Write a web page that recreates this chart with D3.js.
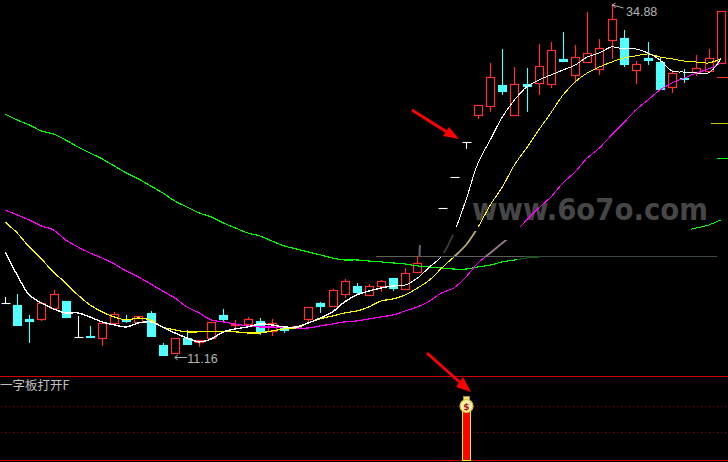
<!DOCTYPE html>
<html><head><meta charset="utf-8">
<script src="https://cdn.jsdelivr.net/npm/d3@7"></script>
<style>html,body{margin:0;padding:0;background:#000;overflow:hidden}svg{display:block}</style>
</head><body><svg id="c" width="728" height="462"></svg>
<script>
// Values (price units; null = candle not visible)
const highs=[15.25,15.45,14.05,14.85,15.72,14.98,13.98,13.31,13.51,14.25,14.05,13.98,14.31,12.17,12.50,13.04,12.37,13.58,14.45,13.71,13.91,13.84,13.78,13.17,13.31,14.58,14.92,15.79,16.46,16.19,16.12,16.39,16.52,17.18,17.99,null,21.21,23.29,25.63,28.11,30.93,31.87,30.66,30.59,32.20,32.33,33.00,32.13,34.34,32.53,34.88,33.14,31.06,32.33,31.26,30.46,30.52,31.46,31.87,34.41];
const opens=[14.85,14.72,13.78,13.78,14.51,14.98,12.57,12.66,12.50,13.51,13.71,13.58,14.18,12.04,11.50,12.50,12.24,12.50,14.05,13.38,13.44,13.64,12.97,13.17,13.24,13.78,14.85,14.65,15.45,15.99,15.39,15.99,16.52,15.79,16.91,null,21.21,23.29,25.63,27.45,28.05,29.45,27.45,29.52,29.59,29.52,31.19,30.12,30.99,30.52,32.47,32.60,30.46,31.26,30.99,29.32,29.92,30.32,30.39,30.93];
const closes=[14.85,13.38,13.64,14.85,15.45,13.91,12.57,12.62,13.51,14.11,13.64,13.98,12.64,11.37,12.50,12.10,12.37,13.58,13.78,13.44,13.78,12.97,13.51,13.04,13.31,14.58,14.65,15.72,16.33,15.59,15.99,16.33,15.85,16.85,17.52,null,21.21,23.29,25.63,28.11,29.99,29.05,29.52,29.39,30.73,31.80,31.06,31.33,31.60,31.93,33.87,30.86,30.86,31.13,29.19,30.26,29.85,30.59,31.26,34.41];
const lows=[14.85,13.38,12.17,13.64,14.51,13.91,12.57,12.50,11.97,13.51,13.51,13.58,12.64,11.37,11.50,12.10,11.90,12.37,13.51,13.17,13.44,12.71,12.64,12.84,13.11,13.51,14.18,14.58,15.18,15.45,15.39,15.59,15.65,15.79,16.91,null,21.21,23.29,25.17,27.18,27.65,28.78,27.45,27.65,28.78,29.25,30.99,29.59,30.99,30.12,31.19,30.66,29.52,30.79,29.19,28.92,29.59,30.05,30.39,30.93];
const maWhite=[18.27,16.73,15.39,14.85,14.45,14.18,14.18,13.91,13.58,13.38,13.24,13.51,13.58,13.24,12.84,12.50,12.24,12.44,12.91,13.11,13.24,13.44,13.38,13.24,13.24,13.51,13.84,14.25,14.92,15.39,15.65,15.85,15.99,16.05,16.52,17.26,17.99,19.54,21.75,24.23,25.77,27.31,28.45,29.32,29.79,30.12,30.46,30.79,31.33,31.60,32.00,31.87,31.87,31.60,31.13,30.39,30.32,30.26,30.26,31.19];
const maYellow=[20.28,19.54,18.60,17.80,16.91,16.19,15.39,14.72,14.25,13.91,13.71,13.84,13.71,13.24,13.04,12.91,12.91,12.91,12.91,12.91,12.84,12.84,12.97,13.11,13.17,13.51,13.78,13.98,14.18,14.31,14.58,14.98,15.12,15.39,15.85,16.39,17.19,17.93,18.73,19.94,21.41,22.62,24.10,25.23,26.44,27.58,28.78,29.66,30.26,30.66,30.99,31.26,31.40,31.53,31.33,31.20,31.06,30.99,30.93,31.20];
const maMagenta=[21.08,20.75,20.41,20.01,19.74,19.07,18.60,18.20,17.86,17.46,16.99,16.59,16.12,15.65,15.18,14.58,14.18,13.71,13.58,13.44,13.31,13.24,13.24,13.17,13.17,13.17,13.31,13.44,13.58,13.64,13.78,13.91,14.05,14.31,14.58,14.98,15.52,15.85,16.59,17.53,18.20,18.87,19.54,20.41,21.21,21.95,22.89,23.63,24.56,25.23,26.10,26.91,27.78,28.45,29.12,29.59,29.92,30.26,30.53,30.93];
const maGreen=[27.51,27.11,26.78,26.37,26.17,25.77,25.30,24.90,24.50,24.03,23.56,23.16,22.69,22.22,21.68,21.28,20.88,20.61,20.21,19.87,19.54,19.34,19.00,18.67,18.47,18.27,18.07,17.86,17.73,17.73,17.66,17.60,17.53,17.46,17.33,17.26,17.19,17.12,17.12,17.26,17.39,17.60,17.73,17.86,17.93,null,null,null,null,null,null,null,null,null,null,null,19.67,19.87,20.07,20.41];
const ghostLevel=17.99;
const rightMarks=[29.99,26.91,24.56];
const highLabel=34.88, lowLabel=11.16;
const panelTitle="一字板打开F", watermark="www.6o7o.com";

const RED="#ff3232",CYAN="#54ffff",W=728;
const svg=d3.select("#c");
svg.append("rect").attr("width",728).attr("height",462).attr("fill","#000");
const x=d3.scaleLinear().domain([0,59]).range([5,720.7]);
const y=d3.scaleLinear().domain([11.16,34.88]).range([358,4]);
const crisp=v=>Math.round(v)+0.5;

// watermark (under the marks)
svg.append("text").text(watermark).attr("x",472).attr("y",220)
  .attr("textLength",236).attr("lengthAdjust","spacingAndGlyphs")
  .attr("font-family","DejaVu Sans").attr("font-weight","bold").attr("font-size",30).attr("fill","#464646");

// faint level line
const glvl=svg.append("g").attr("shape-rendering","crispEdges");
glvl.append("line").attr("x1",376).attr("x2",525).attr("y1",crisp(y(ghostLevel))).attr("y2",crisp(y(ghostLevel))).attr("stroke","#5e5e5e");
glvl.append("line").attr("x1",525).attr("x2",717).attr("y1",crisp(y(ghostLevel))).attr("y2",crisp(y(ghostLevel))).attr("stroke","#3e4a4a");

// candles
const candles=svg.append("g");
d3.range(highs.length).forEach(i=>{
  if(highs[i]===null) return;
  const o=opens[i],c=closes[i],cx=crisp(x(i));
  const col=c>o?RED:(c<o?CYAN:"#fff"), sw=c>o?1.2:1.1;
  const top=Math.round(y(Math.max(o,c))),bot=Math.round(y(Math.min(o,c)));
  candles.append("line").attr("x1",cx).attr("x2",cx).attr("y1",y(highs[i])).attr("y2",top).attr("stroke",col).attr("stroke-width",sw);
  candles.append("line").attr("x1",cx).attr("x2",cx).attr("y1",bot).attr("y2",y(lows[i])).attr("stroke",col).attr("stroke-width",sw);
  if(c===o){
    candles.append("line").attr("x1",cx-4).attr("x2",cx+5).attr("y1",top+.5).attr("y2",top+.5).attr("stroke",col).attr("stroke-width",1.1);
  } else {
    candles.append("rect").attr("x",cx-4).attr("width",8).attr("y",top+.5).attr("height",Math.max(bot-top,1))
      .attr("fill",c>o?"#000":CYAN).attr("stroke",col).attr("stroke-width",sw);
  }
});
// smear above the last red candle
svg.append("line").attr("x1",x(34)+2).attr("x2",x(34)+2.5).attr("y1",y(highs[34])).attr("y2",y(18.73)).attr("stroke","#6f5f80").attr("stroke-width",2);

// clip regions for moving averages
const defs=svg.append("defs");
defs.append("clipPath").attr("id","left").append("rect").attr("width",400).attr("height",372);
const cp=defs.append("clipPath").attr("id","right");
[[400,0,328,227],[400,257,328,115]].forEach(r=>cp.append("rect").attr("x",r[0]).attr("y",r[1]).attr("width",r[2]).attr("height",r[3]));
const line=d3.line().defined(d=>d!==null).x((d,i)=>x(i)).y(d=>y(d)).curve(d3.curveCatmullRom);
function strip(vals,col,sw,clip){
  svg.append("path").attr("d",line(vals)).attr("fill","none").attr("stroke",col).attr("stroke-width",sw)
    .attr("shape-rendering","crispEdges").attr("clip-path",`url(#${clip})`);
}
function ma(vals,col,leftW,smearCol,st,sb,id){
  strip(vals,col,leftW,"left");
  strip(vals,col,1.0,"right");
  defs.append("clipPath").attr("id",id).append("rect").attr("x",400).attr("y",st).attr("width",328).attr("height",sb-st);
  svg.append("path").attr("d",line(vals)).attr("fill","none").attr("stroke",smearCol).attr("stroke-width",1.8).attr("stroke-linecap","round").attr("clip-path",`url(#${id})`);
}
// green: bright until x≈517, faded until 547, hidden until 691
defs.append("clipPath").attr("id","g1").append("rect").attr("width",517).attr("height",372);
defs.append("clipPath").attr("id","g2").append("rect").attr("x",517).attr("width",30).attr("height",372);
defs.append("clipPath").attr("id","g3").append("rect").attr("x",691).attr("width",37).attr("height",372);
strip(maGreen,"#00ff00",1.15,"g1");
strip(maGreen,"#0c5a0c",1.15,"g2");
strip(maGreen,"#00ff00",1.0,"g3");
ma(maMagenta,"#ff00ff",1.2,"#94788a",240,257,"s3");
ma(maYellow,"#ffff00",1.2,"#b3aa6c",231,256,"s2");
ma(maWhite,"#ffffff",1.4,"#3c3c3c",235,253,"s1");

// high/low labels
const lab=svg.append("g").attr("fill","#b4b4b4").attr("font-family","Liberation Sans").attr("font-size",12.5);
const hx=x(50),hy=y(highLabel);
svg.append("path").attr("d",`M${hx+1},${hy+1}L${hx+12},${hy+4}M${hx+1},${hy+1}l3,-2M${hx+1},${hy+1}l3,3`).attr("fill","none").attr("stroke","#b4b4b4");
lab.append("text").text(highLabel).attr("x",hx+14.5).attr("y",hy+12);
const lx=x(14),ly=y(lowLabel);
svg.append("path").attr("d",`M${lx},${ly-.5}H${lx+12}M${lx},${ly-.5}l3,-2.5M${lx},${ly-.5}l3,2.5`).attr("fill","none").attr("stroke","#b4b4b4");
lab.append("text").text(lowLabel).attr("x",lx+12.5).attr("y",ly+5);

// right edge marks
[RED,"#c8c800","#00ff00"].forEach((col,i)=>{
  const x0=[717,711,717][i];
  svg.append("line").attr("x1",x0).attr("x2",W).attr("y1",crisp(y(rightMarks[i]))).attr("y2",crisp(y(rightMarks[i]))).attr("stroke",col).attr("shape-rendering","crispEdges");
});

// lower panel
const p=svg.append("g");
[376,460].forEach(v=>p.append("line").attr("x1",0).attr("x2",W).attr("y1",v+.5).attr("y2",v+.5).attr("stroke","#d00000").attr("shape-rendering","crispEdges"));
[406,432].forEach(v=>p.append("line").attr("x1",1).attr("x2",W).attr("y1",v+.5).attr("y2",v+.5).attr("stroke","#a00000").attr("stroke-dasharray","1 3").attr("shape-rendering","crispEdges"));
p.append("text").text(panelTitle).attr("x",0).attr("y",390).attr("fill","#c0c0c0")
  .attr("font-family","Noto Sans CJK SC").attr("font-size",12.5);
p.append("rect").attr("x",462.5).attr("y",411.5).attr("width",8).attr("height",49).attr("fill","#ff0000").attr("stroke","#ffff00").attr("shape-rendering","crispEdges");
// money bag
p.append("rect").attr("x",463.5).attr("y",396.5).attr("width",6).attr("height",4).attr("fill","#f4e27a").attr("stroke","#b09a20").attr("stroke-width",.8);
p.append("ellipse").attr("cx",466.5).attr("cy",406).attr("rx",6.5).attr("ry",6.5).attr("fill","#f6efb0").attr("stroke","#d8c820").attr("stroke-width",1.2);
p.append("text").text("$").attr("x",466.5).attr("y",409.5).attr("text-anchor","middle").attr("fill","#b01818").attr("font-family","DejaVu Sans").attr("font-weight","bold").attr("font-size",9);

// red annotation arrows
function arrow(x0,y0,x1,y1,ax,ay,bx2,by2){
  svg.append("line").attr("x1",x0).attr("y1",y0).attr("x2",(ax+bx2)/2).attr("y2",(ay+by2)/2).attr("stroke","#ff0000").attr("stroke-width",3);
  svg.append("path").attr("d",`M${x1},${y1}L${ax},${ay}L${bx2},${by2}Z`).attr("fill","#ff0000");
}
arrow(412,110,459,139,449,127,443,136);
arrow(427,353,471,392,463,377,456,387);
</script></body></html>
